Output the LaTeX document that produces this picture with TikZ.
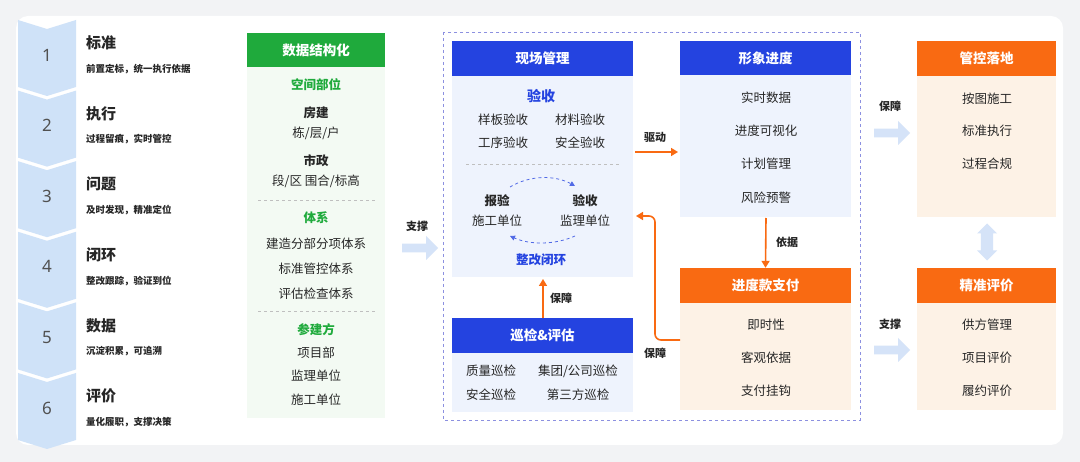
\documentclass[tikz,border=0pt]{standalone}
\usepackage{fontspec}
\setmainfont{Noto Sans CJK SC}
\newfontfamily\numf{Noto Sans}
\usetikzlibrary{shapes.arrows,arrows.meta}
\definecolor{bgc}{HTML}{F2F3F5}
\definecolor{chev}{HTML}{CFE2F8}
\definecolor{grn}{HTML}{1FAA3C}
\definecolor{grnb}{HTML}{F3FAF3}
\definecolor{blu}{HTML}{2443E0}
\definecolor{blub}{HTML}{EEF3FD}
\definecolor{org}{HTML}{F96A12}
\definecolor{orgb}{HTML}{FDF2E6}
\definecolor{dashc}{HTML}{8C90E0}
\definecolor{larr}{HTML}{D5E3F8}
\definecolor{txt}{HTML}{262626}
\tikzset{
 hdr/.style={minimum height=35pt,text=white,font=\fontsize{13.5}{14}\selectfont\bfseries,inner sep=0pt},
 bt/.style={text=txt,font=\fontsize{12.5}{13}\selectfont,inner sep=0pt},
 bb/.style={text=txt,font=\fontsize{12.5}{13}\selectfont\bfseries,inner sep=0pt},
 gt/.style={text=grn,font=\fontsize{12.5}{13}\selectfont\bfseries,inner sep=0pt},
 blt/.style={text=blu,font=\fontsize{14}{15}\selectfont\bfseries,inner sep=0pt},
 lab/.style={text=txt,font=\fontsize{11}{12}\selectfont\bfseries,inner sep=0pt},
 ttl/.style={text=txt,font=\fontsize{15}{16}\selectfont\bfseries,inner sep=0pt,anchor=west},
 sub/.style={text=txt,font=\fontsize{9.5}{10}\selectfont\bfseries,inner sep=0pt,anchor=west},
 num/.style={text=txt!80,font=\numf\fontsize{17}{18}\selectfont,inner sep=0pt},
 larrow/.style={single arrow,fill=larr,draw=none,minimum height=36pt,minimum width=24pt,single arrow head extend=4pt,inner sep=2pt},
 oarr/.style={draw=org,line width=1.6pt,-{Triangle[length=7pt,width=8pt]}},
}
\begin{document}
\begin{tikzpicture}[x=1pt,y=-1pt]
\useasboundingbox (0,0) rectangle (1080,462);
\fill[bgc] (0,0) rectangle (1080,462);
\fill[white,rounded corners=12pt] (16,16) rectangle (1063,445);
% chevrons
\foreach \i/\t/\s in {0/标准/{前置定标，统一执行依据},1/执行/{过程留痕，实时管控},2/问题/{及时发现，精准定位},3/闭环/{整改跟踪，验证到位},4/数据/{沉淀积累，可追溯},5/评价/{量化履职，支撑决策}}{
 \pgfmathsetmacro\tp{20+70.6*\i}
 \pgfmathsetmacro\bt{\tp+67}
 \fill[chev] (18,\tp) -- (47,\tp+9) -- (76,\tp) -- (76,\bt) -- (47,\bt+9) -- (18,\bt) -- cycle;
 \pgfmathtruncatemacro\n{\i+1}
 \node[num] (n\n) at (47,\tp+35) {\n};
 \node[ttl] (t\n) at (86,\tp+23) {\t};
 \node[sub] (s\n) at (86,\tp+49) {\s};
}
% green column
\fill[grnb] (247,67) rectangle (385,418);
\node[hdr,fill=grn,minimum width=138pt,minimum height=34pt] (g) at (316,50) {数据结构化};
\node[gt] (g1) at (316,85) {空间部位};
\node[bb] (g2) at (316,113) {房建};
\node[bt] (g3) at (316,133) {栋/层/户};
\node[bb] (g4) at (316,161) {市政};
\node[bt] (g5) at (316,181) {段/区 围合/标高};
\draw[gray!50,dashed] (258,200) -- (375,200);
\node[gt] (g6) at (316,218) {体系};
\node[bt] (g7) at (316,244) {建造分部分项体系};
\node[bt] (g8) at (316,269) {标准管控体系};
\node[bt] (g9) at (316,294) {评估检查体系};
\draw[gray!50,dashed] (258,311) -- (375,311);
\node[gt] (g10) at (316,330) {参建方};
\node[bt] (g11) at (316,353) {项目部};
\node[bt] (g12) at (316,376) {监理单位};
\node[bt] (g13) at (316,400) {施工单位};
\node[lab] (l1) at (417,226) {支撑};
\node[larrow] (a1) at (418,248) {};
% dashed frame
\draw[dashc,dashed,line width=0.8pt] (443,32) rectangle (860,420);
% 现场管理
\fill[blub] (452,76) rectangle (633,277);
\node[hdr,fill=blu,minimum width=181pt] (xc) at (542.5,58.5) {现场管理};
\node[blt] (ys) at (541,96) {验收};
\node[bt] (y1) at (503,120) {样板验收};
\node[bt] (y2) at (580,120) {材料验收};
\node[bt] (y3) at (503,143) {工序验收};
\node[bt] (y4) at (580,143) {安全验收};
\draw[gray!50,dashed] (466,164) -- (620,164);
\draw[blu!80,dashed,thick,-{Triangle[length=5pt,width=5pt]}] (510,187) .. controls (530,175) and (555,175) .. (575,186);
\draw[blu!80,dashed,thick,-{Triangle[length=5pt,width=5pt]}] (575,236) .. controls (555,245) and (530,245) .. (510,236);
\node[bb] (r1) at (497,201) {报验};
\node[bt] (r2) at (497,221) {施工单位};
\node[bb] (r3) at (585,201) {验收};
\node[bt] (r4) at (585,221) {监理单位};
\node[text=blu,font=\fontsize{12.5}{13}\selectfont\bfseries,inner sep=0pt] (zg) at (541,260) {整改闭环};
% 巡检
\fill[blub] (452,353) rectangle (633,412);
\node[hdr,fill=blu,minimum width=181pt] (xj) at (542.5,335.5) {巡检\&评估};
\node[bt] (x1) at (491,371) {质量巡检};
\node[bt] (x2) at (578,371) {集团/公司巡检};
\node[bt] (x3) at (491,395) {安全巡检};
\node[bt] (x4) at (578,395) {第三方巡检};
\coordinate (b0) at (543,318); \coordinate (b1) at (543,279);
\draw[oarr] (b0) -- (b1);
\node[lab] (l2) at (561,298) {保障};
% 形象进度
\fill[blub] (680,75) rectangle (851,217);
\node[hdr,fill=blu,minimum width=171pt,minimum height=34pt] (xx) at (765.5,58) {形象进度};
\node[bt] (p1) at (766,98) {实时数据};
\node[bt] (p2) at (766,131) {进度可视化};
\node[bt] (p3) at (766,164) {计划管理};
\node[bt] (p4) at (766,198) {风险预警};
\coordinate (d0) at (635,152); \coordinate (d1) at (678,152);
\draw[oarr] (d0) -- (d1);
\node[lab] (l3) at (655,137) {驱动};
% 进度款支付
\fill[orgb] (680,303) rectangle (851,410);
\node[hdr,fill=org,minimum width=171pt] (jd) at (765.5,285.5) {进度款支付};
\node[bt] (q1) at (766,325) {即时性};
\node[bt] (q2) at (766,358) {客观依据};
\node[bt] (q3) at (766,391) {支付挂钩};
\coordinate (e0) at (766,218);
\draw[oarr] (e0) -- (jd.north);
\node[lab] (l4) at (787,242) {依据};
\coordinate (f0) at (680,340); \coordinate (f1) at (636,216);
\draw[oarr,rounded corners=6pt] (f0) -- (655,340) -- (655,216) -- (f1);
\node[lab] (l5) at (655,353) {保障};
% right column
\node[lab] (l6) at (890,106) {保障};
\node[larrow] (a2) at (890,133) {};
\fill[orgb] (917,76) rectangle (1056,217);
\node[hdr,fill=org,minimum width=139pt] (gk) at (986.5,58.5) {管控落地};
\node[bt] (k1) at (987,99) {按图施工};
\node[bt] (k2) at (987,131) {标准执行};
\node[bt] (k3) at (987,164) {过程合规};
\node[double arrow,fill=larr,rotate=90,minimum height=37pt,minimum width=20pt,double arrow head extend=2pt,inner sep=3pt] (a4) at (987,242) {};
\node[lab] (l7) at (890,324) {支撑};
\node[larrow] (a3) at (890,350) {};
\fill[orgb] (917,303) rectangle (1056,410);
\node[hdr,fill=org,minimum width=139pt] (jz) at (986.5,285.5) {精准评价};
\node[bt] (z1) at (987,325) {供方管理};
\node[bt] (z2) at (987,358) {项目评价};
\node[bt] (z3) at (987,391) {履约评价};
\end{tikzpicture}
\end{document}
